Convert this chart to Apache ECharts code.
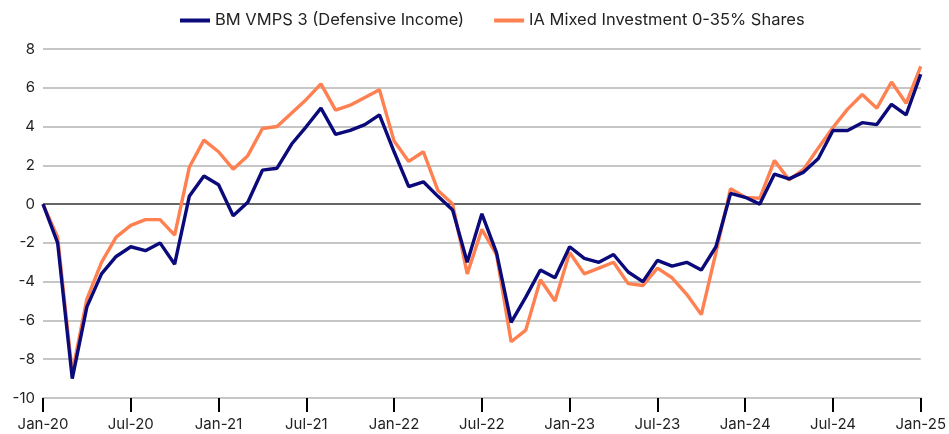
<!DOCTYPE html>
<html>
<head>
<meta charset="utf-8">
<script src="https://cdn.jsdelivr.net/npm/echarts@6/dist/echarts.min.js"></script>
<style>
  html, body { margin: 0; padding: 0; background: #fff; }
  #main { width: 949px; height: 434px; }
</style>
</head>
<body>
<div id="main"></div>
<script>
// monthly categories, Jan-20 .. Jan-25
const months = [
  'Jan-20','Feb-20','Mar-20','Apr-20','May-20','Jun-20','Jul-20','Aug-20','Sep-20','Oct-20','Nov-20','Dec-20',
  'Jan-21','Feb-21','Mar-21','Apr-21','May-21','Jun-21','Jul-21','Aug-21','Sep-21','Oct-21','Nov-21','Dec-21',
  'Jan-22','Feb-22','Mar-22','Apr-22','May-22','Jun-22','Jul-22','Aug-22','Sep-22','Oct-22','Nov-22','Dec-22',
  'Jan-23','Feb-23','Mar-23','Apr-23','May-23','Jun-23','Jul-23','Aug-23','Sep-23','Oct-23','Nov-23','Dec-23',
  'Jan-24','Feb-24','Mar-24','Apr-24','May-24','Jun-24','Jul-24','Aug-24','Sep-24','Oct-24','Nov-24','Dec-24',
  'Jan-25'
];

// BM VMPS 3 (Defensive Income)
const vmps3 = [
  0, -2.0, -9.0, -5.3, -3.6, -2.7, -2.2, -2.4, -2.0, -3.1, 0.4, 1.45,
  1.0, -0.6, 0.1, 1.75, 1.85, 3.1, 4.0, 4.95, 3.6, 3.8, 4.1, 4.6,
  2.7, 0.9, 1.15, 0.4, -0.3, -3.0, -0.5, -2.5, -6.1, -4.8, -3.4, -3.8,
  -2.2, -2.8, -3.0, -2.6, -3.5, -4.0, -2.9, -3.2, -3.0, -3.4, -2.2, 0.55,
  0.35, 0.0, 1.55, 1.3, 1.65, 2.35, 3.8, 3.8, 4.2, 4.1, 5.15, 4.6,
  6.7
];

// IA Mixed Investment 0-35% Shares
const iaMixed = [
  0, -1.7, -8.7, -4.9, -3.0, -1.7, -1.1, -0.8, -0.8, -1.6, 1.9, 3.3,
  2.7, 1.8, 2.5, 3.9, 4.0, 4.7, 5.4, 6.2, 4.85, 5.1, 5.5, 5.9,
  3.25, 2.2, 2.7, 0.7, 0.0, -3.6, -1.3, -2.6, -7.1, -6.5, -3.9, -5.0,
  -2.5, -3.6, -3.3, -3.0, -4.1, -4.2, -3.3, -3.8, -4.65, -5.7, -2.5, 0.8,
  0.35, 0.3, 2.25, 1.25, 1.8, 2.9, 3.95, 4.9, 5.65, 4.95, 6.3, 5.2,
  7.1
];

const seriesNames = ['BM VMPS 3 (Defensive Income)', 'IA Mixed Investment 0-35% Shares'];

var myChart = echarts.init(document.getElementById('main'));

const gridCol = '#c6c6c6';

const option = {
    animation: false,
    textStyle: { fontFamily: 'Inter', color: '#222' },
    legend: {
        top: 7,
        left: 175,
        itemWidth: 30,
        itemHeight: 4,
        itemGap: 30,
        icon: 'rect',
        textStyle: { fontSize: 16.5, color: '#222', fontFamily: 'Inter' },
        data: seriesNames
    },
    grid: { left: 43, right: 26, top: 49, bottom: 36 },
    xAxis: {
        type: 'category',
        data: months,
        boundaryGap: false,
        axisLine: { onZero: false, lineStyle: { color: gridCol, width: 2 } },
        axisTick: { interval: 5, length: 14, lineStyle: { color: '#000', width: 2 } },
        axisLabel: { interval: 5, fontSize: 15, color: '#222', margin: 19 }
    },
    yAxis: {
        type: 'value',
        min: -10,
        max: 8,
        interval: 2,
        axisLine: { show: false },
        axisTick: { show: false },
        axisLabel: { fontSize: 15, color: '#222', margin: 8 },
        splitLine: {
            lineStyle: {
                width: 2,
                color: [gridCol, gridCol, gridCol, gridCol, gridCol, '#666', gridCol, gridCol, gridCol, gridCol]
            }
        }
    },
    series: [
        {
            name: seriesNames[1],
            type: 'line',
            data: iaMixed,
            symbol: 'none',
            color: '#ff8050',
            lineStyle: { width: 3.4, color: '#ff8050' },
            z: 2
        },
        {
            name: seriesNames[0],
            type: 'line',
            data: vmps3,
            symbol: 'none',
            color: '#0a0a7a',
            lineStyle: { width: 3.4, color: '#0a0a7a' },
            z: 3
        }
    ]
};

myChart.setOption(option);
</script>
</body>
</html>
